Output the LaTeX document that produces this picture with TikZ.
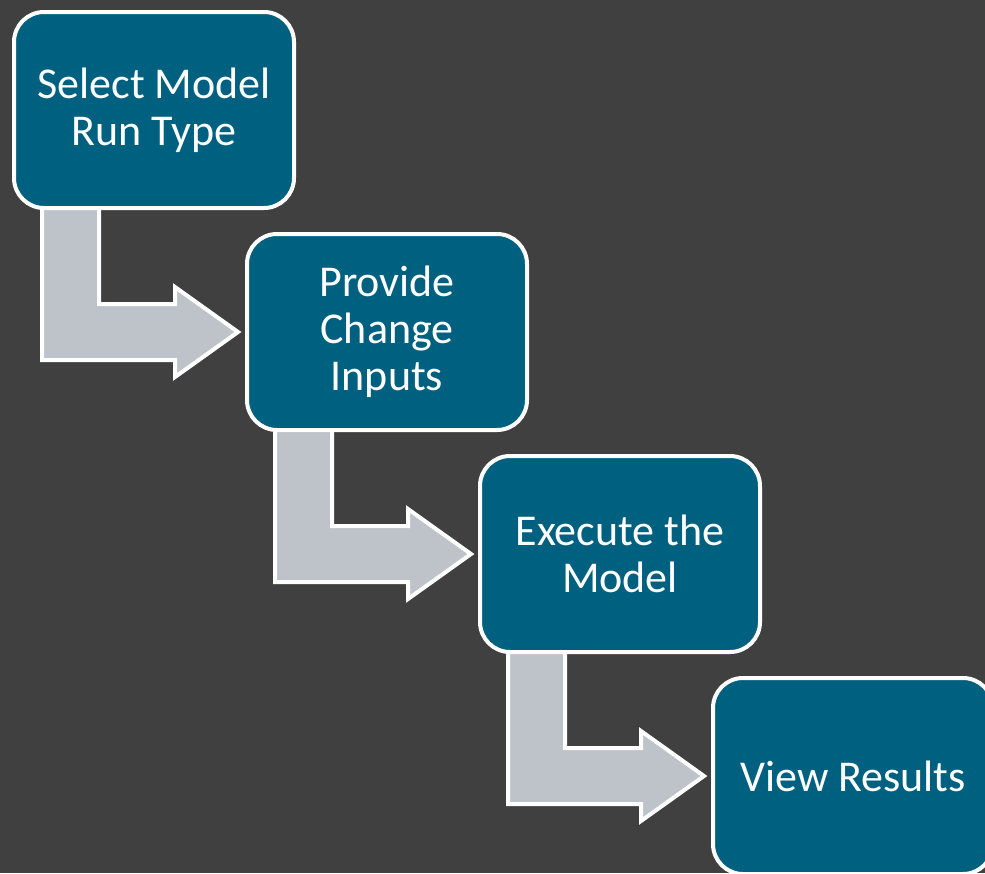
\documentclass[tikz,border=0pt]{standalone}
\usepackage{fontspec}
\setmainfont{Carlito}
\usetikzlibrary{calc,backgrounds}

\definecolor{slidebg}{RGB}{64,64,64}
\definecolor{stepteal}{RGB}{0,96,128}
\definecolor{arrowgray}{RGB}{189,195,201}

\begin{document}
\begin{tikzpicture}[
    x=1pt,
    y=-1pt,
    stepbox/.style={
        rectangle,
        draw=white,
        line width=4pt,
        fill=stepteal,
        rounded corners=30pt,
        minimum width=280pt,
        minimum height=196pt,
        text=white,
        align=center,
        font=\fontsize{44}{47}\selectfont
    },
    bentarrow/.style={
        draw=white, line width=4pt, fill=arrowgray, line join=miter
    }
]

    \clip (0,0) rectangle (985,873);

    % Nodes
    \node [stepbox] (select)  at (154,110) {Select Model\\Run Type};
    \node [stepbox] (inputs)  at (387,332) {Provide\\Change\\Inputs};
    \node [stepbox] (execute) at (620,554) {Execute the\\Model};
    \node [stepbox] (results) at (853,776) {View Results};

    % Edges
    \begin{scope}[on background layer]
        \fill [slidebg] (0,0) rectangle (985,873);
        \foreach \from/\to in {select/inputs, inputs/execute, execute/results}
            \path [bentarrow] let \p1=(\from.south west), \p2=(\to.west) in
                (\x1+30pt,\y1+5pt) -- (\x1+30pt,\y2-28pt) -- (\x2-70pt,\y2-28pt)
                -- (\x2-70pt,\y2-45pt) -- (\x2-7pt,\y2) -- (\x2-70pt,\y2+45pt)
                -- (\x2-70pt,\y2+28pt) -- (\x1+87pt,\y2+28pt) -- (\x1+87pt,\y1+5pt)
                -- cycle;
    \end{scope}

\end{tikzpicture}
\end{document}
